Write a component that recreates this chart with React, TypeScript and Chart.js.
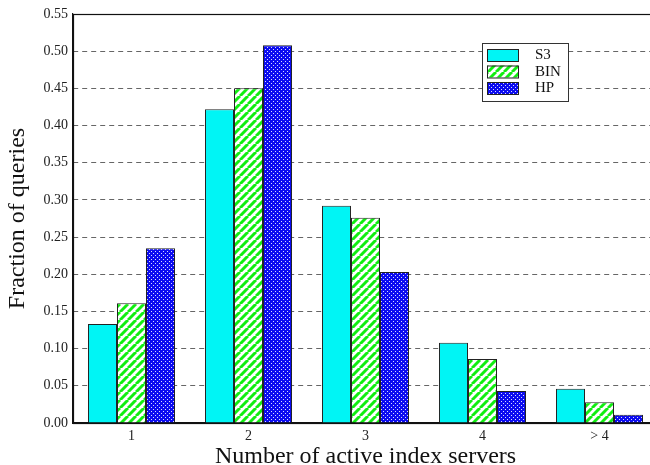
import React, { useEffect, useRef } from "react";
import { Chart, registerables } from "chart.js";

Chart.register(...registerables);

const categories = ["1", "2", "3", "4", "> 4"];
const seriesNames = ["S3", "BIN", "HP"];
const s3Values = [0.133, 0.422, 0.292, 0.108, 0.046];
const binValues = [0.161, 0.45, 0.276, 0.086, 0.028];
const hpValues = [0.235, 0.508, 0.203, 0.043, 0.011];
const yTicks = [0, 0.05, 0.1, 0.15, 0.2, 0.25, 0.3, 0.35, 0.4, 0.45, 0.5, 0.55];

const FONT = "'Liberation Serif', 'DejaVu Serif', serif";

function stripePattern(ctx: CanvasRenderingContext2D): CanvasPattern | string {
  const c = document.createElement("canvas");
  const n = 8;
  c.width = n;
  c.height = n;
  const g = c.getContext("2d");
  if (!g) return "#22ee22";
  g.fillStyle = "#ffffff";
  g.fillRect(0, 0, n, n);
  g.strokeStyle = "#11ee11";
  g.lineWidth = 3;
  for (const o of [-n, 0, n]) {
    g.beginPath();
    g.moveTo(o, n);
    g.lineTo(o + n, 0);
    g.stroke();
  }
  return ctx.createPattern(c, "repeat") || "#22ee22";
}

function dotPattern(ctx: CanvasRenderingContext2D): CanvasPattern | string {
  const c = document.createElement("canvas");
  c.width = 4;
  c.height = 4;
  const g = c.getContext("2d");
  if (!g) return "#1010f0";
  g.fillStyle = "#0c0cf0";
  g.fillRect(0, 0, 4, 4);
  g.fillStyle = "rgba(255,255,255,0.85)";
  g.fillRect(1, 1, 1, 1);
  g.fillRect(3, 3, 1, 1);
  return ctx.createPattern(c, "repeat") || "#1010f0";
}

// Frame around the plot area and a boxed legend in the upper right.
const framePlugin = {
  id: "frameAndLegend",
  afterDatasetsDraw(chart: any) {
    const { ctx, chartArea } = chart;
    ctx.save();
    ctx.strokeStyle = "#111";
    ctx.lineWidth = 1.2;
    ctx.setLineDash([]);
    ctx.strokeRect(
      Math.round(chartArea.left) + 0.5,
      Math.round(chartArea.top) + 0.5,
      Math.round(chartArea.right - chartArea.left),
      Math.round(chartArea.bottom - chartArea.top)
    );

    // legend
    const bx = 482.5;
    const by = 43.5;
    const bw = 86;
    const bh = 58;
    ctx.fillStyle = "#fff";
    ctx.fillRect(bx, by, bw, bh);
    ctx.strokeStyle = "#333";
    ctx.lineWidth = 1;
    ctx.strokeRect(bx, by, bw, bh);
    ctx.font = `15px ${FONT}`;
    ctx.textBaseline = "middle";
    ctx.textAlign = "left";
    chart.data.datasets.forEach((ds: any, i: number) => {
      const sy = 49 + i * 16.5;
      ctx.fillStyle = ds.backgroundColor;
      ctx.fillRect(487, sy, 31, 12);
      ctx.strokeStyle = "#222";
      ctx.strokeRect(487.5, sy + 0.5, 31, 12);
      ctx.fillStyle = "#111";
      ctx.fillText(ds.label, 535, sy + 6.5);
    });
    ctx.restore();
  },
};

export default function App() {
  const ref = useRef<HTMLCanvasElement>(null);

  useEffect(() => {
    const canvas = ref.current;
    if (!canvas) return;
    const ctx = canvas.getContext("2d")!;
    const fills = ["#00f5f5", stripePattern(ctx), dotPattern(ctx)];
    const values = [s3Values, binValues, hpValues];

    const chart = new Chart(canvas, {
      type: "bar",
      data: {
        labels: categories,
        datasets: seriesNames.map((name, i) => ({
          label: name,
          data: values[i],
          backgroundColor: fills[i] as any,
          borderColor: "#222",
          borderWidth: 1,
          barPercentage: 1,
          categoryPercentage: 0.744,
        })),
      },
      options: {
        animation: false,
        responsive: false,
        maintainAspectRatio: false,
        layout: { padding: { top: 14, right: 12, left: 0, bottom: 0 } },
        plugins: {
          legend: { display: false },
          tooltip: { enabled: false },
        },
        scales: {
          x: {
            grid: { display: false, drawTicks: false },
            border: { display: true, color: "#111", width: 1.2 },
            ticks: {
              color: "#222",
              font: { family: FONT, size: 14 },
              padding: 5,
            },
            title: {
              display: true,
              text: "Number of active index servers",
              color: "#111",
              font: { family: FONT, size: 24, lineHeight: 0.7 },
              padding: { top: 0, bottom: 0 },
            },
            afterFit: (s: any) => {
              s.height = 42;
            },
          },
          y: {
            min: 0,
            max: 0.55,
            afterBuildTicks: (s: any) => {
              s.ticks = yTicks.map((v) => ({ value: v }));
            },
            grid: {
              color: "#666",
              lineWidth: 1,
              drawTicks: false,
            },
            border: { display: true, color: "#111", width: 1.2, dash: [5, 4] },
            ticks: {
              color: "#222",
              font: { family: FONT, size: 14 },
              padding: 5,
              callback: (v: any) => Number(v).toFixed(2),
            },
            title: {
              display: true,
              text: "Fraction of queries",
              color: "#111",
              font: { family: FONT, size: 24, lineHeight: 1 },
              padding: { top: 6, bottom: 0 },
            },
            afterFit: (s: any) => {
              s.width = 73;
            },
          },
        },
      },
      plugins: [framePlugin],
    });
    return () => chart.destroy();
  }, []);

  return (
    <div
      style={{
        position: "fixed",
        left: 0,
        top: 0,
        width: 650,
        height: 465,
        overflow: "hidden",
        background: "#fff",
      }}
    >
      <canvas ref={ref} width={670} height={465} style={{ display: "block" }} />
    </div>
  );
}
